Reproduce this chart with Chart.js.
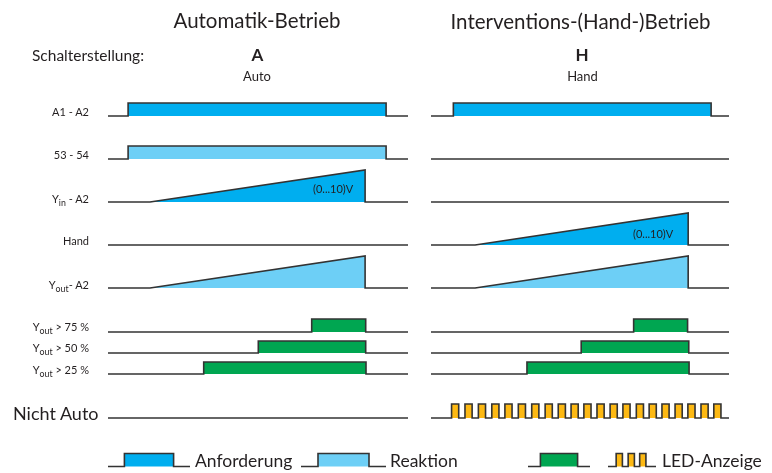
<!DOCTYPE html>
<html><head><meta charset="utf-8">
<script src="https://cdn.jsdelivr.net/npm/chart.js@4/dist/chart.umd.min.js"></script>
<style>
html,body{margin:0;padding:0;background:#fff;}
#wrap{position:relative;width:772px;height:473px;overflow:hidden;font-family:Lato,"Noto Sans",sans-serif;color:#231f20;}
#c{position:absolute;left:0;top:0;}
.t{position:absolute;white-space:nowrap;line-height:1.2;}
.t sub{font-size:0.8em;vertical-align:-0.3em;line-height:0;}
.mk{display:inline-block;width:0;height:0;}
</style></head>
<body><div id="wrap"><canvas id="c" width="772" height="473"></canvas></div>
<script>
// ---- data (time in % of each panel's time axis; levels normalised) ----
const panelNames = ["Automatik-Betrieb", "Interventions-(Hand-)Betrieb"];
const switchLetters = ["A", "H"];
const switchNames = ["Auto", "Hand"];
const rowLabels = ["A1 - A2", "53 - 54", "Y<sub>in</sub> - A2", "Hand", "Y<sub>out</sub>- A2",
  "Y<sub>out</sub> &gt; 75 %", "Y<sub>out</sub> &gt; 50 %", "Y<sub>out</sub> &gt; 25 %", "Nicht Auto"];
const legendLabels = ["Anforderung", "Reaktion", "", "LED-Anzeige"];
const rampLabel = "(0...10)V";

// Automatik panel: [on, off] / ramp [start, end]
const autoA1A2 = [6.7, 92.7];
const auto5354 = [6.7, 92.7];
const autoYinRamp = [14.0, 85.7];
const autoYoutRamp = [14.0, 85.7];
const autoOver75 = [67.9, 85.9];
const autoOver50 = [50.1, 85.9];
const autoOver25 = [31.9, 86.0];
// Hand panel
const handA1A2 = [7.5, 94.0];
const handHandRamp = [14.8, 86.3];
const handYoutRamp = [14.8, 86.3];
const handOver75 = [68.0, 86.1];
const handOver50 = [50.4, 86.5];
const handOver25 = [32.2, 86.6];
const handLedPulseStarts = [6.9, 11.4, 15.9, 20.4, 24.8, 29.3, 33.8, 38.3, 42.7, 47.0, 51.3,
  55.7, 60.1, 64.4, 68.9, 73.2, 77.5, 81.9, 86.2, 90.6, 94.9];
const ledPulseWidth = 2.4;
// legend glyphs (time in % of glyph width)
const legendPulse = [20, 80];
const legendLedStarts = [17, 42, 66];
const legendLedWidth = 13;

// ---- layout ----
const panels = [{x0:108, x1:408}, {x0:431, x1:729}];
const rowBase = [116, 159, 202, 245, 288, 332, 353, 374, 418];
const ampPulse = 13, ampRamp = 32, ampLed = 14;
const C_DARK = "#00aeef", C_LIGHT = "#6dcff6", C_GREEN = "#00a651", C_LED = "#fdb913";
const LINE = "#333333";

const datasets = [];
function px(p, t){ return panels[p].x0 + (panels[p].x1 - panels[p].x0) * t / 100; }
function add(pts, base, color){
  datasets.push({data: pts, borderColor: LINE, borderWidth: 1.6, backgroundColor: color || "rgba(0,0,0,0)",
    fill: color ? {value: base} : false, pointRadius: 0, tension: 0, borderJoinStyle: "miter"});
}
function flat(p, r){ const b=rowBase[r]; add([{x:px(p,0),y:b},{x:px(p,100),y:b}], b); }
function pulses(p, r, on, amp, color){
  const b=rowBase[r]; const pts=[{x:px(p,0),y:b}];
  for (const [s,e] of on){ pts.push({x:px(p,s),y:b},{x:px(p,s),y:b-amp},{x:px(p,e),y:b-amp},{x:px(p,e),y:b}); }
  pts.push({x:px(p,100),y:b}); add(pts, b, color);
}
function ramp(p, r, se, color){
  const b=rowBase[r];
  add([{x:px(p,0),y:b},{x:px(p,se[0]),y:b},{x:px(p,se[1]),y:b-ampRamp},{x:px(p,se[1]),y:b},{x:px(p,100),y:b}], b, color);
}
// Automatik
pulses(0,0,[autoA1A2],ampPulse,C_DARK);
pulses(0,1,[auto5354],ampPulse,C_LIGHT);
ramp(0,2,autoYinRamp,C_DARK);
flat(0,3);
ramp(0,4,autoYoutRamp,C_LIGHT);
pulses(0,5,[autoOver75],ampPulse,C_GREEN);
pulses(0,6,[autoOver50],12,C_GREEN);
pulses(0,7,[autoOver25],12,C_GREEN);
flat(0,8);
// Hand
pulses(1,0,[handA1A2],ampPulse,C_DARK);
flat(1,1);
flat(1,2);
ramp(1,3,handHandRamp,C_DARK);
ramp(1,4,handYoutRamp,C_LIGHT);
pulses(1,5,[handOver75],ampPulse,C_GREEN);
pulses(1,6,[handOver50],12,C_GREEN);
pulses(1,7,[handOver25],12,C_GREEN);
pulses(1,8,handLedPulseStarts.map(s=>[s,s+ledPulseWidth]),ampLed,C_LED);

// legend glyphs
const legendBase = 466.5;
const legendBoxes = [{x0:108,x1:190,c:C_DARK},{x0:301,x1:386,c:C_LIGHT},{x0:528,x1:590,c:C_GREEN},{x0:608,x1:656,c:C_LED,led:true}];
for (const g of legendBoxes){
  const gx = t => g.x0 + (g.x1-g.x0)*t/100;
  const on = g.led ? legendLedStarts.map(s=>[s,s+legendLedWidth]) : [legendPulse];
  const pts=[{x:gx(0),y:legendBase}];
  for (const [s,e] of on){ pts.push({x:gx(s),y:legendBase},{x:gx(s),y:legendBase-ampPulse},{x:gx(e),y:legendBase-ampPulse},{x:gx(e),y:legendBase}); }
  pts.push({x:gx(100),y:legendBase}); add(pts, legendBase, g.c);
}

new Chart(document.getElementById("c"), {
  type: "line",
  data: {datasets},
  options: {
    responsive:false, animation:false, events:[],
    layout:{padding:0},
    parsing:true,
    scales:{
      x:{type:"linear", min:0, max:772, display:false},
      y:{type:"linear", min:0, max:473, reverse:true, display:false}
    },
    plugins:{legend:{display:false}, tooltip:{enabled:false}}
  }
});

// ---- text ----
const wrap = document.getElementById("wrap");
const texts = [];
function text(html, x, baseline, size, align, weight){
  const d = document.createElement("div");
  d.className = "t";
  d.innerHTML = html + '<span class="mk"></span>';
  d.style.fontSize = size + "px";
  if (weight) d.style.fontWeight = weight;
  wrap.appendChild(d);
  texts.push({d, x, baseline, align});
}
text(panelNames[0], 257, 28, 20.5, "center", 400);
text(panelNames[1], 580.5, 29, 20.5, "center", 400);
text("Schalterstellung:", 32, 61, 15.5, "left", 400);
text(switchLetters[0], 257.5, 61, 17, "center", 700);
text(switchLetters[1], 582, 61, 17, "center", 700);
text(switchNames[0], 257, 81, 13, "center");
text(switchNames[1], 582.5, 81, 13, "center");
const labelBase = [116, 159, 202.5, 245, 288.5, 331, 352, 374];
for (let i=0;i<8;i++) text(rowLabels[i], 89, labelBase[i], 11, "right");
text(rowLabels[8], 13, 420, 18, "left", 400);
text(rampLabel, 313, 193, 11, "left");
text(rampLabel, 633, 237.5, 11, "left");
text(legendLabels[0], 195, 467, 17.5, "left", 400);
text(legendLabels[1], 390, 467, 17.5, "left", 400);
text(legendLabels[3], 662, 467, 17.5, "left", 400);

function place(){
  for (const t of texts){
    const mk = t.d.querySelector(".mk");
    const off = mk.getBoundingClientRect().top - t.d.getBoundingClientRect().top;
    const w = t.d.getBoundingClientRect().width;
    t.d.style.top = (t.baseline - off) + "px";
    let left = t.x;
    if (t.align === "center") left = t.x - w/2;
    else if (t.align === "right") left = t.x - w;
    t.d.style.left = left + "px";
  }
}
place();
if (document.fonts && document.fonts.ready) document.fonts.ready.then(place);
</script>
</body></html>
